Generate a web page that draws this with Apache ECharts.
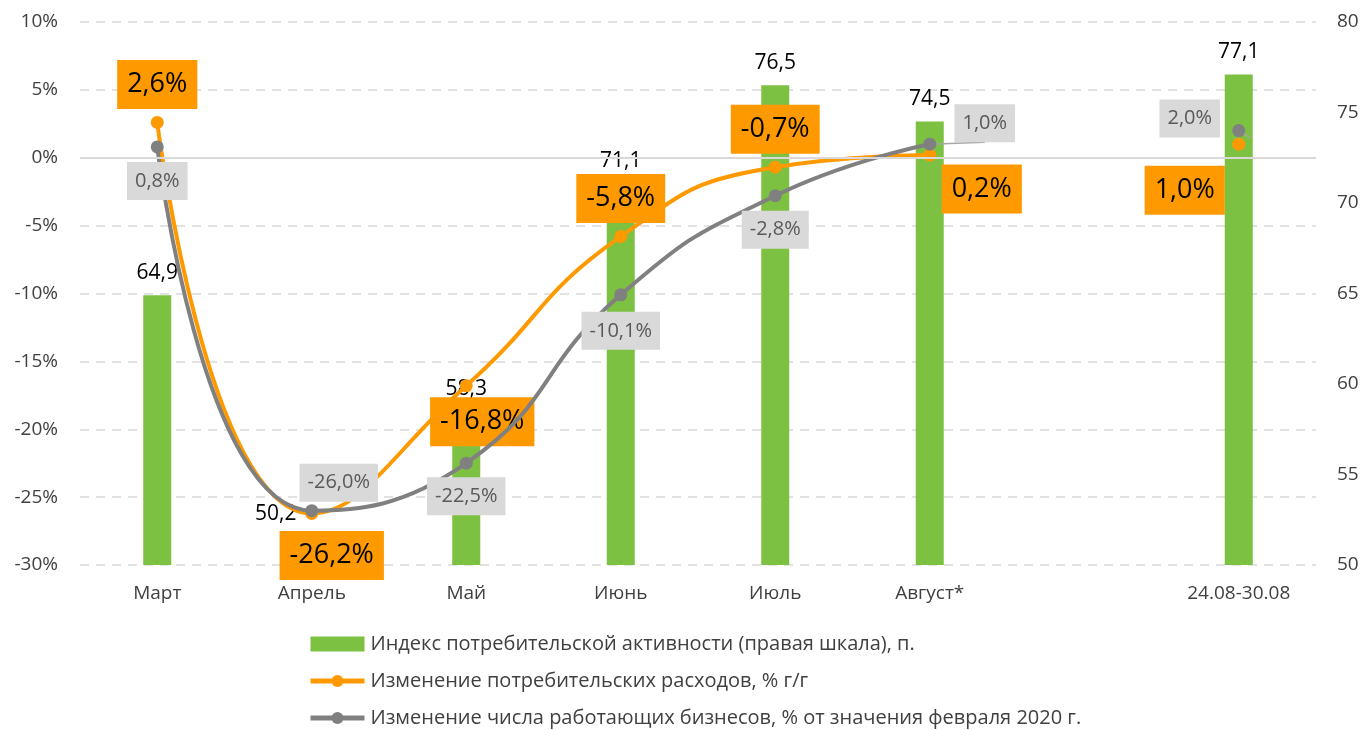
<!DOCTYPE html>
<html>
<head>
<meta charset="utf-8">
<title>Потребительская активность</title>
<script src="https://cdn.jsdelivr.net/npm/echarts@6/dist/echarts.min.js"></script>
<style>
  html, body { margin: 0; padding: 0; background: #fff; }
  #chart { width: 1367px; height: 730px; }
</style>
</head>
<body>
<div id="chart"></div>
<script>
// data (empty 7th category is a gap in the source chart)
var categories = ['Март', 'Апрель', 'Май', 'Июнь', 'Июль', 'Август*', '', '24.08-30.08'];
var activityIndex = [64.9, 50.2, 58.3, 71.1, 76.5, 74.5, null, 77.1];
var spendingChange = [2.6, -26.2, -16.8, -5.8, -0.7, 0.2, null, 1.0];
var businessChange = [0.8, -26.0, -22.5, -10.1, -2.8, 1.0, null, 2.0];
var seriesNames = [
  'Индекс потребительской активности (правая шкала), п.',
  'Изменение потребительских расходов, % г/г',
  'Изменение числа работающих бизнесов, % от значения февраля 2020 г.'
];

// label placement (px offsets from the mark)
var barLabelShift = [[0, 0], [-36, -25], [0, -3], [0, 0], [0, 0], [0, 0], null, [0, 0]];
var spendLabelShift = [[0, -38], [20, 42], [16, 36], [0, -38], [0, -38], [52, 34], null, [-54, 46]];
var bizLabelShift = [[0, 34], [27, -28], [0, 33], [0, 36], [0, 34], [55, -21], null, [-49, -12]];

var FONT = 'Open Sans';
var GREEN = '#7cc142', ORANGE = '#ff9900', GREY = '#808080';

function fmt(v) { return v.toFixed(1).replace('.', ','); }

function items(values, shifts, extra) {
  return values.map(function (v, i) {
    if (v === null) return null;
    var it = { value: v, label: { offset: shifts[i] } };
    if (extra && extra[i]) Object.assign(it, extra[i]);
    return it;
  });
}

var chart = echarts.init(document.getElementById('chart'));

var option = {
  animation: false,
  textStyle: { fontFamily: FONT },
  grid: { left: 80, right: 51, top: 22, bottom: 165 },
  legend: {
    orient: 'vertical',
    left: 308,
    top: 634,
    height: 96,
    padding: 0,
    itemWidth: 54,
    itemHeight: 15,
    itemGap: 17,
    data: [
      { name: seriesNames[0], icon: 'rect' },
      { name: seriesNames[1], lineStyle: { width: 5 } },
      { name: seriesNames[2], lineStyle: { width: 5 } }
    ],
    textStyle: { fontFamily: FONT, fontSize: 20, lineHeight: 20, color: '#404040', padding: [0, 0, 0, 1] }
  },
  xAxis: {
    type: 'category',
    data: categories,
    axisLine: { show: false },
    axisTick: { show: false },
    axisLabel: { fontFamily: FONT, fontSize: 19, color: '#404040', margin: 19, interval: 0 }
  },
  yAxis: [
    {
      type: 'value',
      min: -30, max: 10, interval: 5,
      axisLine: { show: false },
      axisTick: { show: false },
      axisLabel: {
        fontFamily: FONT, fontSize: 19, color: '#404040', margin: 22,
        formatter: function (v) { return v + '%'; }
      },
      splitLine: { lineStyle: { color: '#d9d9d9', type: [9, 7], width: 1.5 } }
    },
    {
      type: 'value',
      min: 50, max: 80, interval: 5,
      axisLine: { show: false },
      axisTick: { show: false },
      axisLabel: { fontFamily: FONT, fontSize: 19, color: '#404040', margin: 21 },
      splitLine: { show: false }
    }
  ],
  series: [
    {
      name: seriesNames[0],
      type: 'bar',
      yAxisIndex: 1,
      barWidth: 28,
      itemStyle: { color: GREEN },
      data: items(activityIndex, barLabelShift),
      label: {
        show: true,
        position: 'top',
        distance: 12,
        fontFamily: FONT,
        fontSize: 21,
        color: '#000',
        formatter: function (p) { return fmt(p.value); }
      }
    },
    {
      name: seriesNames[1],
      type: 'line',
      yAxisIndex: 0,
      smooth: 0.5,
      connectNulls: false,
      symbol: 'circle',
      symbolSize: 13,
      lineStyle: { color: ORANGE, width: 4 },
      itemStyle: { color: ORANGE },
      data: items(spendingChange, spendLabelShift),
      label: {
        show: true,
        position: 'inside',
        fontFamily: FONT,
        fontSize: 27,
        lineHeight: 35,
        color: '#000',
        backgroundColor: ORANGE,
        padding: [8, 10, 6, 10],
        formatter: function (p) { return fmt(p.value) + '%'; }
      },
      markLine: {
        silent: true,
        symbol: 'none',
        label: { show: false },
        lineStyle: { color: '#d9d9d9', type: 'solid', width: 2 },
        data: [{ yAxis: 0 }]
      },
      z: 3
    },
    {
      name: seriesNames[2],
      type: 'line',
      yAxisIndex: 0,
      smooth: 0.5,
      connectNulls: false,
      symbol: 'circle',
      symbolSize: 13,
      lineStyle: { color: GREY, width: 4 },
      itemStyle: { color: GREY },
      data: items(businessChange, bizLabelShift, {
        5: { labelLine: { show: true, lineStyle: { color: '#a6a6a6', width: 1.5 } } },
        7: { labelLine: { show: true, lineStyle: { color: '#a6a6a6', width: 1.5 } } }
      }),
      label: {
        show: true,
        position: 'inside',
        fontFamily: FONT,
        fontSize: 20,
        lineHeight: 26,
        color: '#595959',
        backgroundColor: '#d9d9d9',
        padding: [7, 8, 5, 8],
        formatter: function (p) { return fmt(p.value) + '%'; }
      },
      z: 4
    }
  ]
};

chart.setOption(option);
</script>
</body>
</html>
